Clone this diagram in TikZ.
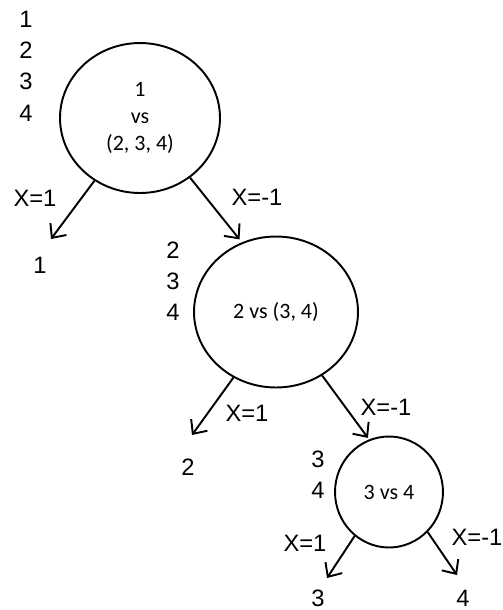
\documentclass[tikz,border=0pt]{standalone}
\usepackage{fontspec}
\setmainfont{Liberation Sans}
\newfontfamily\calibrifont{Carlito}
\usetikzlibrary{shapes.geometric, arrows.meta, positioning}

\begin{document}
\begin{tikzpicture}[
        x=0.02cm, y=-0.02cm,
        splitnode/.style={ellipse, draw=black, line width=1.1pt, inner sep=0pt, align=center, font=\calibrifont\fontsize{12.5}{15.6}\selectfont},
        setlabel/.style={align=center, font=\fontsize{13.5}{17.8}\selectfont},
        branchlabel/.style={font=\fontsize{13.5}{15}\selectfont},
        leafnode/.style={font=\fontsize{13.5}{15}\selectfont},
        splitarrow/.style={-{Straight Barb[length=2.2mm,width=4mm]}, line width=1.1pt}
    ]
        \useasboundingbox (0,0) rectangle (503,610);

        % Split nodes
        \node[splitnode, minimum width=3.2cm, minimum height=3cm] (root) at (140,118) {1\\vs\\(2, 3, 4)};
        \node[splitnode, minimum width=3.28cm, minimum height=3.02cm] (mid) at (276,312) {2 vs (3, 4)};
        \node[splitnode, minimum width=2.16cm, minimum height=2.22cm] (low) at (389,492) {3 vs 4};

        % Class sets
        \node[setlabel] (rootset) at (26,66) {1\\2\\3\\4};
        \node[setlabel] (midset) at (173,281) {2\\3\\4};
        \node[setlabel] (lowset) at (318,475) {3\\4};

        % Leaves
        \node[leafnode] (leafa) at (40,265) {1};
        \node[leafnode] (leafb) at (188,467) {2};
        \node[leafnode] (leafc) at (318,598) {3};
        \node[leafnode] (leafd) at (463,598) {4};
        \coordinate (enda) at (51,239);
        \coordinate (endb) at (192,435);
        \coordinate (endc) at (327,578);
        \coordinate (endd) at (457,575);

        % Branches
        \draw[splitarrow] (root.234) -- (enda);
        \draw[splitarrow] (root.310) -- ([shift={(0,-4)}]mid.118);
        \draw[splitarrow] (mid.237) -- (endb);
        \draw[splitarrow] (mid.306) -- ([shift={(0,-2)}]low.112);
        \draw[splitarrow] (low.232) -- (endc);
        \draw[splitarrow] (low.314) -- (endd);

        % Branch labels
        \node[branchlabel] (xa) at (35,198) {X=1};
        \node[branchlabel] (xb) at (257,197) {X=-1};
        \node[branchlabel] (xc) at (247,413) {X=1};
        \node[branchlabel] (xd) at (386,407) {X=-1};
        \node[branchlabel] (xe) at (305,543) {X=1};
        \node[branchlabel] (xf) at (477,537) {X=-1};
    \end{tikzpicture}
\end{document}
